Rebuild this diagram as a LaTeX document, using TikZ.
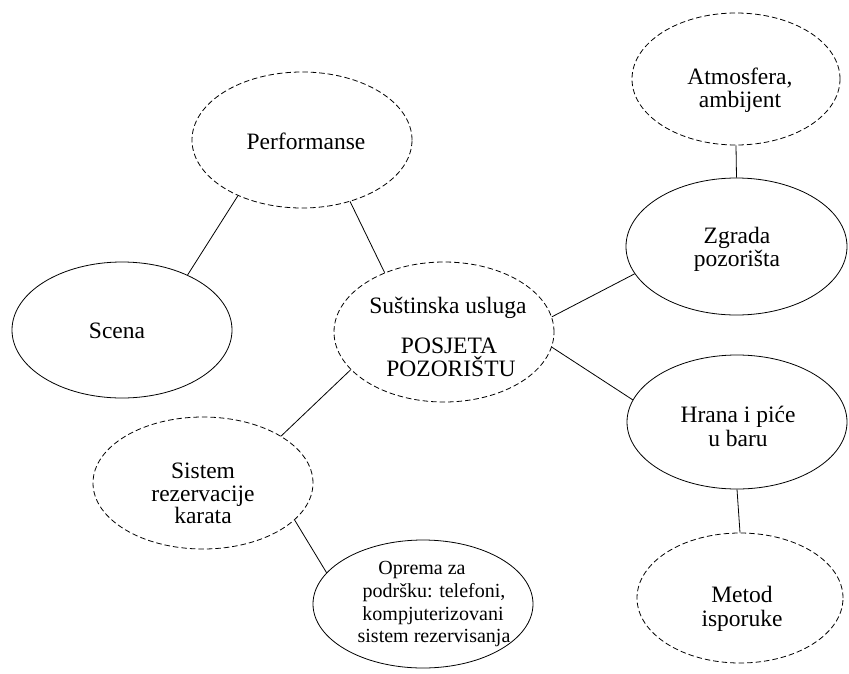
\documentclass[tikz,border=0pt]{standalone}
\usepackage{fontspec}
\setmainfont{Liberation Serif}
\usetikzlibrary{shapes.geometric}
\begin{document}
\begin{tikzpicture}[x=1pt,y=-1pt,
  ell/.style={ellipse, draw, line width=0.8pt, inner sep=0pt},
  dell/.style={ell, dash pattern=on 5.5pt off 3pt},
  txt/.style={anchor=base, inner sep=0pt, font=\fontsize{23.5}{26}\selectfont},
  stxt/.style={txt, font=\fontsize{20}{23}\selectfont},
  conn/.style={line width=0.8pt}]
\useasboundingbox (0,0) rectangle (849,673);
% ellipses
\node[dell, minimum width=220pt, minimum height=136pt] (perf) at (302,140) {};
\node[ell, minimum width=220pt, minimum height=136pt] (scena) at (122,330) {};
\node[dell, minimum width=220pt, minimum height=140pt] (sust) at (444,332) {};
\node[dell, minimum width=208pt, minimum height=132pt] (atm) at (736,79) {};
\node[ell, minimum width=221pt, minimum height=137pt] (zgr) at (736.5,246.5) {};
\node[ell, minimum width=220pt, minimum height=134pt] (hrana) at (737,422) {};
\node[dell, minimum width=206pt, minimum height=130pt] (metod) at (740,598) {};
\node[dell, minimum width=220pt, minimum height=132pt] (sistem) at (203,483) {};
\node[ell, minimum width=220pt, minimum height=128pt] (oprema) at (423,604) {};
% texts
\node[txt] (perfT) at (306,149) {Performanse};
\node[txt] (scenaT) at (117,338) {Scena};
\node[txt] (sustA) at (448,313) {Su\v{s}tinska usluga};
\node[txt] (sustB) at (449,353) {POSJETA};
\node[txt] (sustC) at (451,376) {POZORI\v{S}TU};
\node[txt] (atmA) at (740,84) {Atmosfera,};
\node[txt] (atmB) at (740,107) {ambijent};
\node[txt] (zgrA) at (737,243) {Zgrada};
\node[txt] (zgrB) at (737,266) {pozori\v{s}ta};
\node[txt] (hranaA) at (738,422) {Hrana i pi\'{c}e};
\node[txt] (hranaB) at (738,446) {u baru};
\node[txt] (metodA) at (742,602) {Metod};
\node[txt] (metodB) at (742,626) {isporuke};
\node[txt] (sisA) at (203,478) {Sistem};
\node[txt] (sisB) at (203,501) {rezervacije};
\node[txt] (sisC) at (203,523) {karata};
\node[stxt] (opA) at (422,574) {Oprema za};
\node[stxt] (opB) at (434,597) {podr\v{s}ku: telefoni,};
\node[stxt] (opC) at (433,620) {kompjuterizovani};
\node[stxt] (opD) at (434,642) {sistem rezervisanja};
% connectors
\draw[conn] (perf.221.6) -- (scena.40.1);
\draw[conn] (perf.308.9) -- (sust.135);
\draw[conn] (sust.8.4) -- (zgr.195.4);
\draw[conn] (sust.352.2) -- (hrana.168.9);
\draw[conn] (sust.202.4) -- (sistem.31.5);
\draw[conn] (sistem.338.6) -- (oprema.162.1);
\draw[conn] (atm.south) -- (zgr.north);
\draw[conn] (hrana.south) -- (metod.north);
\end{tikzpicture}
\end{document}
